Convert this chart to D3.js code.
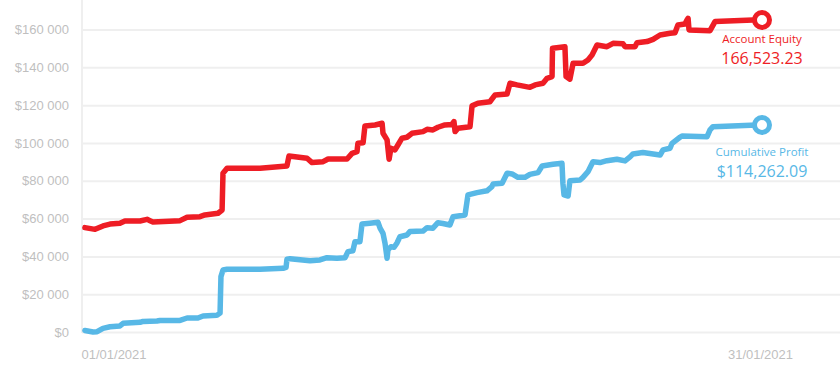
<!DOCTYPE html>
<html>
<meta charset="utf-8">
<style>
body {
  margin: 0;
  background: #fff;
}
svg {
  display: block;
  font-family: "Open Sans", sans-serif;
}
.grid line {
  stroke: #efefef;
  stroke-width: 2px;
}
.grid .domain {
  display: none;
}
.tick text {
  fill: #bfbfbf;
  font-size: 13px;
}
.series path {
  fill: none;
  stroke-width: 5.5px;
  stroke-linejoin: round;
  stroke-linecap: round;
}
</style>
<body>
<svg width="840" height="383"></svg>
<script src="https://d3js.org/d3.v7.min.js"></script>
<script>

// period shown on the x axis
var startDate = new Date(2021, 0, 1),
    endDate = new Date(2021, 0, 31);

var yTicks = [0, 20000, 40000, 60000, 80000, 100000, 120000, 140000, 160000];

// cumulative profit: day offset from 01/01/2021 and value ($)
var profitDays = [0.04, 0.40, 0.58, 0.84, 1.15, 1.59, 1.73, 2.48, 2.61, 3.23, 3.36, 4.25, 4.56, 5.04, 5.27, 5.88, 6.02, 6.06, 6.15, 6.33,
  7.79, 8.81, 8.94, 8.98, 9.12, 10.00, 10.44, 10.75, 11.19, 11.55, 11.68, 11.90, 11.99, 12.21, 12.30, 12.65, 13.01, 13.10, 13.23, 13.32,
  13.41, 13.45, 13.58, 13.72, 13.85, 13.98, 14.29, 14.42, 15.00, 15.18, 15.44, 15.66, 15.88, 16.19, 16.33, 16.86, 16.99, 17.39, 17.83, 18.05,
  18.10, 18.50, 18.72, 18.94, 19.20, 19.51, 19.73, 20.09, 20.27, 20.75, 21.15, 21.19, 21.24, 21.42, 21.50, 21.95, 22.08, 22.30, 22.52, 22.83,
  23.14, 23.58, 23.94, 24.16, 24.29, 24.73, 25.49, 25.62, 25.93, 26.02, 26.37, 26.46, 27.57, 27.70, 27.83, 29.78, 30.00];
var profitValues = [800, 0, 150, 1950, 2800, 3200, 4600, 5100, 5600, 5800, 6100, 6100, 7400, 7400, 8500, 8800, 10000, 29300, 32800, 33200,
  33200, 33700, 34200, 38500, 38800, 37700, 38100, 39300, 39000, 39300, 42500, 43000, 47800, 47800, 57100, 57500, 58000, 54900, 52200, 46900,
  39000, 43400, 45100, 44800, 47100, 50400, 51300, 53100, 53400, 55200, 54900, 57800, 57400, 56600, 61000, 61900, 72500, 73700, 74700, 76900,
  78300, 78700, 84000, 83600, 81800, 81800, 83400, 84300, 87800, 88700, 89200, 78700, 72500, 71900, 80000, 80400, 81800, 84800, 90100, 89600,
  90600, 91400, 90500, 92600, 94200, 94900, 93600, 96300, 97200, 99800, 103000, 103700, 103300, 106900, 108600, 109500, 109500];

// account equity: day offset from 01/01/2021 and value ($)
var equityDays = [0.04, 0.49, 0.84, 1.15, 1.59, 1.81, 2.48, 2.79, 2.92, 3.05, 4.25, 4.56, 5.13, 5.35, 5.93, 6.11, 6.15, 6.33, 7.79, 8.98,
  9.07, 9.87, 10.09, 10.58, 10.80, 11.64, 11.86, 12.08, 12.12, 12.35, 12.43, 12.88, 13.19, 13.23, 13.41, 13.50, 13.58, 13.76, 13.89, 14.07,
  14.29, 14.51, 15.00, 15.18, 15.44, 15.66, 15.97, 16.28, 16.37, 16.42, 16.55, 17.08, 17.17, 17.43, 17.96, 18.19, 18.72, 18.85, 19.16, 19.73,
  19.96, 20.31, 20.49, 20.71, 20.73, 21.28, 21.33, 21.50, 21.64, 22.08, 22.30, 22.48, 22.70, 23.14, 23.41, 23.85, 23.94, 24.38, 24.47, 24.91,
  25.18, 25.49, 25.93, 26.15, 26.28, 26.59, 26.68, 26.73, 26.77, 27.70, 27.92, 29.60, 30.00];
var equityValues = [55200, 54300, 56100, 57100, 57500, 58700, 58700, 59600, 58900, 58200, 58900, 60700, 61000, 61900, 62800, 64500, 84000, 86600, 86600, 87800,
  93100, 91900, 89600, 90100, 91500, 91500, 94500, 95400, 99800, 100100, 109000, 109500, 110400, 105100, 101600, 91400, 97200, 96300, 98900, 102500,
  103000, 105100, 106000, 107200, 106900, 108300, 109500, 109800, 111300, 106000, 107800, 108600, 119600, 121000, 121800, 125400, 125900, 131600, 130700, 129400,
  130700, 131600, 134200, 135100, 150100, 150900, 135100, 133700, 142100, 142100, 143900, 146500, 151800, 150900, 152700, 152400, 150900, 150900, 153000, 153600,
  154800, 157100, 158000, 158300, 162400, 162900, 165000, 165900, 159800, 159400, 164200, 165000, 165000];

var seriesNames = ["Account Equity", "Cumulative Profit"];
var seriesColors = ["#ee1d25", "#58b8e6"];
var finalEquity = 166523.23,
    finalProfit = 114262.09;

var svg = d3.select("svg"),
    width = +svg.attr("width"),
    height = +svg.attr("height");

var x = d3.scaleTime().domain([startDate, endDate]).range([84, 762]);
var y = d3.scaleLinear().domain([0, 160000]).range([332, 29.5]);

var locale = d3.formatLocale({decimal: ".", thousands: " ", grouping: [3], currency: ["$", ""]});

function toDate(d) { return new Date(startDate.getTime() + d * 864e5); }

// horizontal gridlines + y labels
svg.append("g")
    .attr("class", "grid")
    .attr("transform", "translate(82,0)")
    .call(d3.axisLeft(y)
      .tickValues(yTicks)
      .tickSize(-(width - 82))
      .tickPadding(13)
      .tickFormat(locale.format("$,")));

svg.append("line")
    .attr("x1", 82).attr("x2", 82)
    .attr("y1", 0).attr("y2", 333)
    .attr("stroke", "#efefef")
    .attr("stroke-width", 2);

var xAxis = svg.append("g")
    .attr("transform", "translate(0,332)")
    .call(d3.axisBottom(x)
      .tickValues([startDate, endDate])
      .tickSize(0)
      .tickPadding(18)
      .tickFormat(d3.timeFormat("%d/%m/%Y")));
xAxis.select(".domain").remove();
xAxis.selectAll(".tick text")
    .attr("text-anchor", function(d, i) { return i == 0 ? "start" : "middle"; })
    .attr("dx", function(d, i) { return i == 0 ? -3 : -2; });

var line = d3.line()
    .x(function(d) { return x(d[0]); })
    .y(function(d) { return y(d[1]); });

var series = [
  {name: seriesNames[0], color: seriesColors[0], days: equityDays, values: equityValues,
   label: d3.format(",.2f")(finalEquity), off: [23, 44]},
  {name: seriesNames[1], color: seriesColors[1], days: profitDays, values: profitValues,
   label: d3.format("$,.2f")(finalProfit), off: [31, 52]}
];

var g = svg.append("g").attr("class", "series");

series.forEach(function(s) {
  var pts = s.days.map(function(d, i) { return [toDate(d), s.values[i]]; });
  g.append("path")
      .datum(pts)
      .attr("stroke", s.color)
      .attr("d", line);

  var last = pts[pts.length - 1],
      cx = x(last[0]),
      cy = y(last[1]);

  svg.append("circle")
      .attr("cx", cx)
      .attr("cy", cy)
      .attr("r", 7.5)
      .attr("fill", "#fff")
      .attr("stroke", s.color)
      .attr("stroke-width", 5);

  svg.append("text")
      .attr("x", cx)
      .attr("y", cy + s.off[0])
      .attr("text-anchor", "middle")
      .attr("fill", s.color)
      .attr("font-size", "11.5px")
      .text(s.name);

  svg.append("text")
      .attr("x", cx)
      .attr("y", cy + s.off[1])
      .attr("text-anchor", "middle")
      .attr("fill", s.color)
      .attr("font-size", "16px")
      .text(s.label);
});

</script>
</body>
</html>
